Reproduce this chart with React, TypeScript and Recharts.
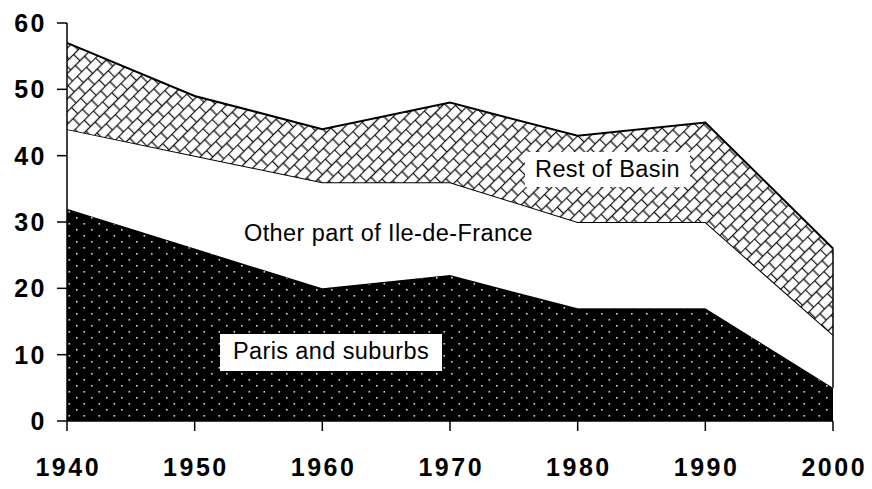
import { AreaChart, Area, XAxis, YAxis, ReferenceLine } from "recharts";

const years = [1940, 1950, 1960, 1970, 1980, 1990, 2000];
const parisSuburbs = [32, 26, 20, 22, 17, 17, 5];
const otherIleDeFrance = [12, 14, 16, 14, 13, 13, 8];
const restOfBasin = [13, 9, 8, 12, 13, 15, 13];
const yTicks = [0, 10, 20, 30, 40, 50, 60];

const data = years.map((year, i) => ({
    year,
    paris: parisSuburbs[i],
    other: otherIleDeFrance[i],
    rest: restOfBasin[i],
}));

const last = years.length - 1;
const lastBottom = parisSuburbs[last];
const lastTop = parisSuburbs[last] + otherIleDeFrance[last] + restOfBasin[last];

const font = '"Liberation Sans", Arial, sans-serif';
const labelStyle = { fill: "#000", fontSize: 23.5, fontFamily: font, letterSpacing: 0.4 };
const axisText = { fontSize: 25, fontWeight: 700, fontFamily: font, letterSpacing: 2.5 };

// bold axis labels, drawn by hand so the font size sticks
function XTick(props: any) {
    const { x, y, payload } = props;
    return (
        <text x={x + 1.25} y={y} dy={18} textAnchor="middle" fill="#000" style={axisText}>
            {payload.value}
        </text>
    );
}

function YTick(props: any) {
    const { x, y, payload } = props;
    return (
        <text x={x + 1} y={y} dy={9} textAnchor="end" fill="#000" style={axisText}>
            {payload.value}
        </text>
    );
}

export default function App() {
    return (
        <div style={{ position: "absolute", left: 0, top: 0, width: 872, height: 489, background: "#fff" }}>
            <AreaChart width={872} height={489} data={data} margin={{ top: 23, right: 39, bottom: 0, left: 0 }}>
                <defs>
                    <pattern id="dots" patternUnits="userSpaceOnUse" width={15} height={12}>
                        <rect width={15} height={12} fill="#000" />
                        <rect x={1} y={1} width={1.6} height={1.6} fill="#d8d8d8" />
                        <rect x={8.5} y={7} width={1.6} height={1.6} fill="#d8d8d8" />
                    </pattern>
                    <pattern id="brick" patternUnits="userSpaceOnUse" width={13} height={18} patternTransform="rotate(-45)">
                        <rect width={13} height={18} fill="#fff" />
                        <line x1={0} y1={0.5} x2={13} y2={0.5} stroke="#111" strokeWidth={1.3} />
                        <line x1={0} y1={9.5} x2={13} y2={9.5} stroke="#111" strokeWidth={1.3} />
                        <line x1={0.5} y1={0} x2={0.5} y2={9.5} stroke="#111" strokeWidth={1.3} />
                        <line x1={7} y1={9.5} x2={7} y2={18} stroke="#111" strokeWidth={1.3} />
                    </pattern>
                </defs>
                <XAxis
                    dataKey="year"
                    height={68}
                    axisLine={{ stroke: "#000", strokeWidth: 1.5 }}
                    tickLine={{ stroke: "#000", strokeWidth: 1.5 }}
                    tickSize={10}
                    tickMargin={27}
                    tick={<XTick />}
                    interval={0}
                />
                <YAxis
                    width={67}
                    domain={[0, 60]}
                    ticks={yTicks}
                    axisLine={{ stroke: "#000", strokeWidth: 1.5 }}
                    tickLine={{ stroke: "#000", strokeWidth: 1.5 }}
                    tickSize={10}
                    tickMargin={11}
                    tick={<YTick />}
                />
                <Area
                    type="linear"
                    dataKey="paris"
                    stackId="a"
                    fill="url(#dots)"
                    fillOpacity={1}
                    stroke="#000"
                    strokeWidth={1}
                    dot={false}
                    activeDot={false}
                    isAnimationActive={false}
                />
                <Area
                    type="linear"
                    dataKey="other"
                    stackId="a"
                    fill="#fff"
                    fillOpacity={1}
                    stroke="#000"
                    strokeWidth={2}
                    dot={false}
                    activeDot={false}
                    isAnimationActive={false}
                />
                <Area
                    type="linear"
                    dataKey="rest"
                    stackId="a"
                    fill="url(#brick)"
                    fillOpacity={1}
                    stroke="#000"
                    strokeWidth={2}
                    dot={false}
                    activeDot={false}
                    isAnimationActive={false}
                />
                <ReferenceLine
                    segment={[{ x: years[last], y: lastBottom }, { x: years[last], y: lastTop }]}
                    stroke="#000"
                    strokeWidth={1.5}
                    ifOverflow="visible"
                />
            </AreaChart>
            <svg width={872} height={489} style={{ position: "absolute", left: 0, top: 0, pointerEvents: "none" }}>
                <rect x={525} y={152} width={165} height={35} fill="#fff" />
                <text x={607.5} y={176.5} textAnchor="middle" style={labelStyle}>Rest of Basin</text>
                <text x={388.5} y={241} textAnchor="middle" style={labelStyle}>Other part of Ile-de-France</text>
                <rect x={220} y={334} width={222} height={37} fill="#fff" />
                <text x={331} y={359} textAnchor="middle" style={labelStyle}>Paris and suburbs</text>
            </svg>
        </div>
    );
}
